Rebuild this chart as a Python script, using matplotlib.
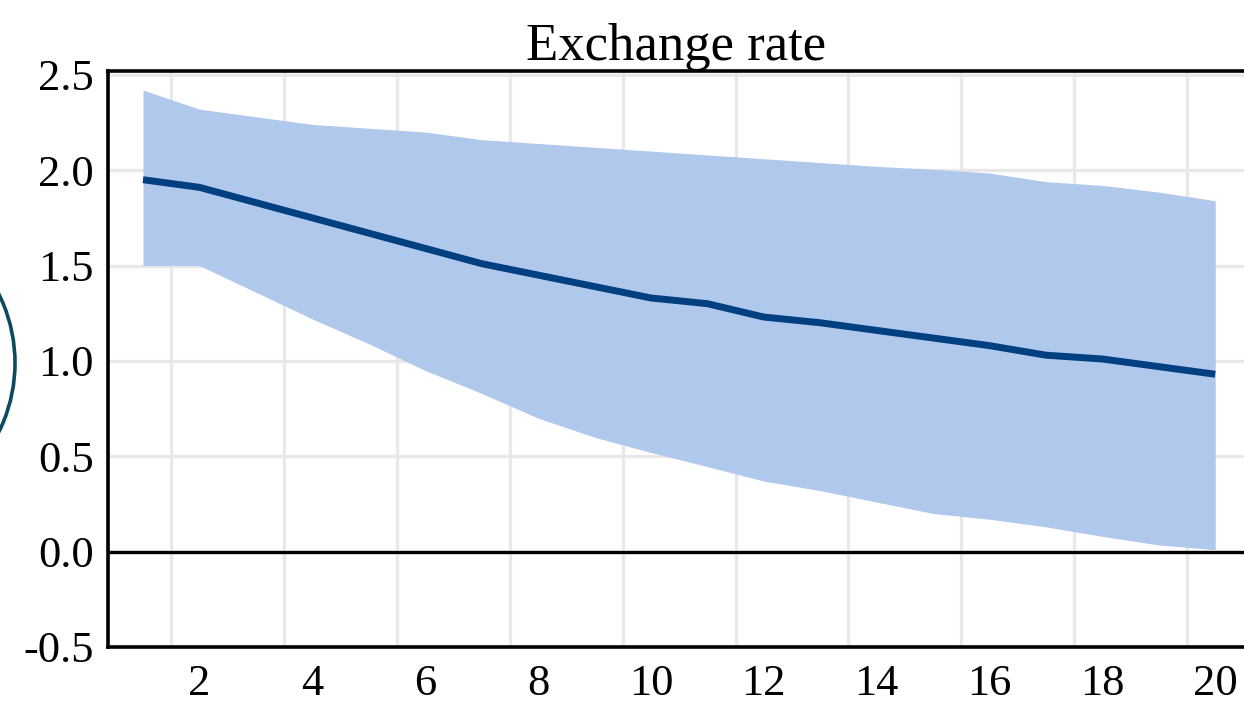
import numpy as np
import matplotlib
matplotlib.use("Agg")
import matplotlib.pyplot as plt
from matplotlib.patches import Arc

plt.rcParams['font.family'] = ['Liberation Serif', 'DejaVu Serif']
plt.rcParams['axes.unicode_minus'] = False

# periods 1..20
periods = list(range(1, 21))
# median response
median = [1.95, 1.91, 1.83, 1.75, 1.67, 1.59, 1.51, 1.45, 1.39, 1.33,
          1.30, 1.23, 1.20, 1.16, 1.12, 1.08, 1.03, 1.01, 0.97, 0.93]
# upper and lower bands
upper = [2.42, 2.32, 2.28, 2.24, 2.22, 2.20, 2.16, 2.14, 2.12, 2.10,
         2.08, 2.06, 2.04, 2.02, 2.005, 1.985, 1.94, 1.92, 1.885, 1.84]
lower = [1.50, 1.50, 1.36, 1.22, 1.09, 0.95, 0.83, 0.70, 0.60, 0.52,
         0.446, 0.37, 0.32, 0.26, 0.20, 0.17, 0.13, 0.08, 0.035, 0.01]

yticks = [-0.5, 0.0, 0.5, 1.0, 1.5, 2.0, 2.5]
xticks = list(range(2, 21, 2))

fig = plt.figure(figsize=(12.44, 7.07), dpi=100)
ax = fig.add_axes([108 / 1244, 60 / 707, 1 - 108 / 1244, (647 - 71) / 707])

ax.fill_between(periods, lower, upper, color='#b0c8ec', lw=0, zorder=2)
ax.plot(periods, median, color='#003f80', lw=5, zorder=3, solid_capstyle='butt')
ax.axhline(0, color='black', lw=2.4, zorder=4)

ax.set_xlim(0.38, 20.51)
ax.set_ylim(-0.5, 2.52)

ax.set_yticks(yticks)
ax.set_yticklabels(['%.1f' % v for v in yticks])
ax.set_xticks(xticks)
ax.set_xticks([x + 0.5 for x in range(1, 20, 2)], minor=True)

ax.grid(False)
ax.grid(axis='y', which='major', color='#e8e8e8', lw=2.4, zorder=1)
ax.grid(axis='x', which='minor', color='#e8e8e8', lw=2.4, zorder=1)
ax.set_axisbelow(True)

ax.tick_params(axis='both', which='both', length=0, labelsize=32)
ax.tick_params(axis='y', pad=10)
ax.tick_params(axis='x', pad=12)

for s in ['left', 'top', 'bottom']:
    ax.spines[s].set_linewidth(2.6)
    ax.spines[s].set_color('black')
ax.spines['right'].set_visible(False)

ax.set_title('Exchange rate', fontsize=38, pad=2)

# partial circle cut off at the left edge
arc = Arc((-140 / 1244, (707 - 363) / 707), 310 / 1244, 310 / 707,
          transform=fig.transFigure, color='#0d4a5f', lw=2.6, clip_on=False)
fig.add_artist(arc)

fig.savefig('out.png', dpi=100)
